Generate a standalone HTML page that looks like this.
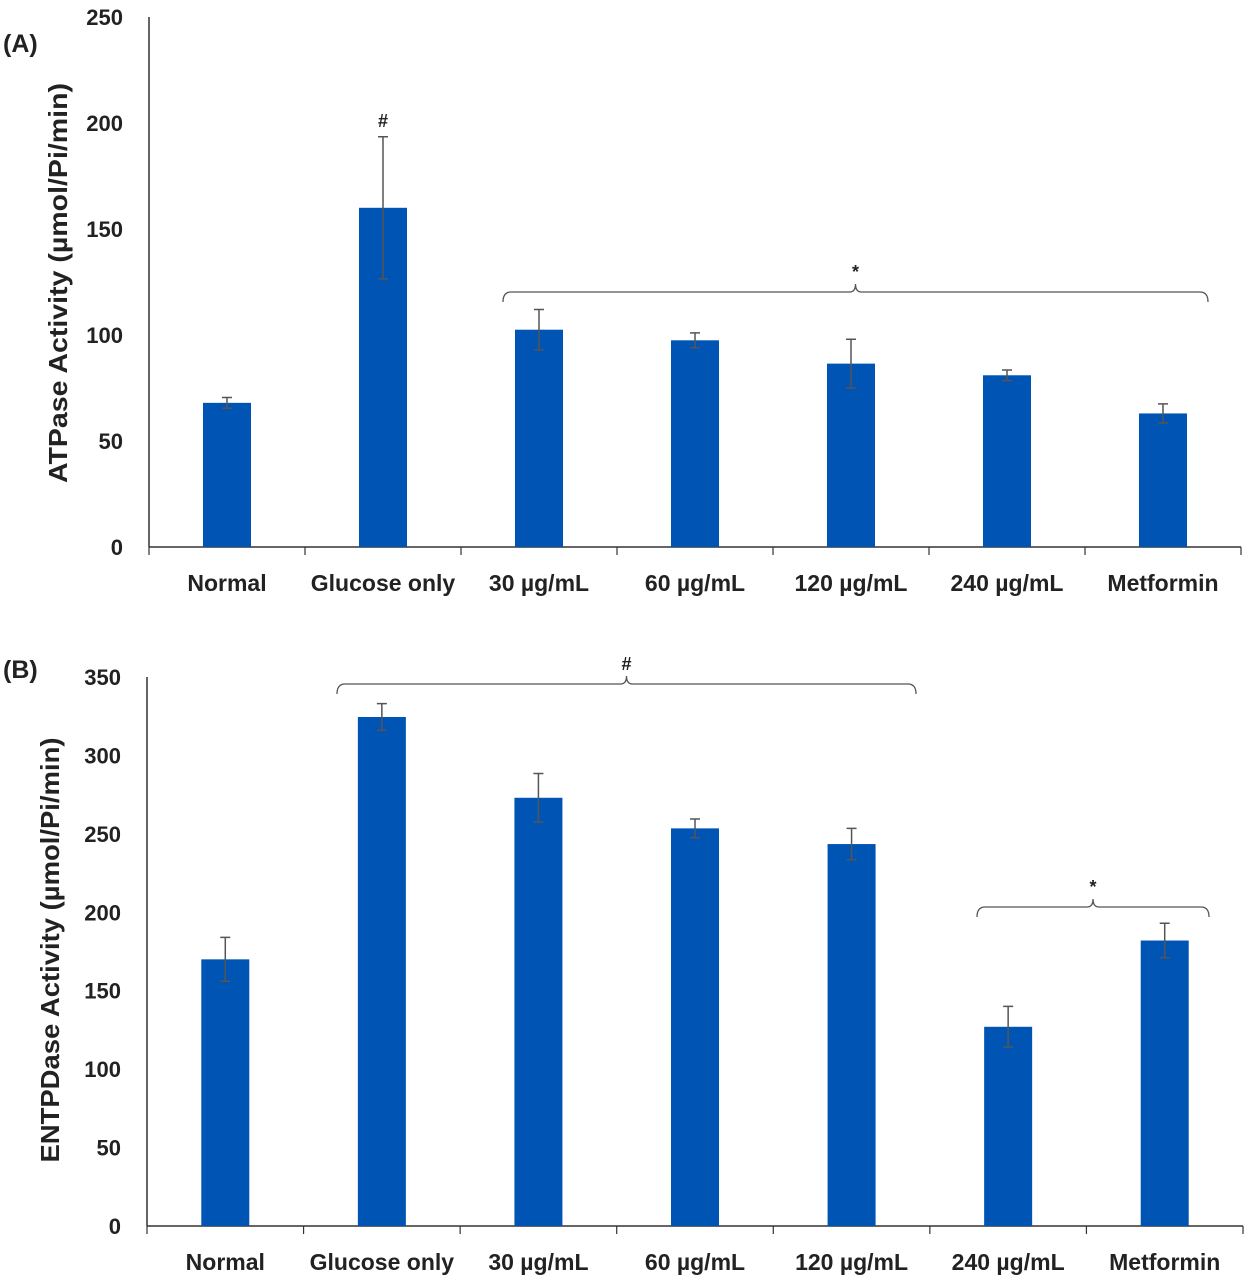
<!DOCTYPE html>
<html><head><meta charset="utf-8"><style>
body{margin:0;background:#fff}
svg text{font-family:"Liberation Sans",Arial,sans-serif;font-weight:bold;fill:#222}
</style></head><body>
<svg id="s" width="1254" height="1282" xmlns="http://www.w3.org/2000/svg"></svg>
<script>
const categories=["Normal","Glucose only","30 µg/mL","60 µg/mL","120 µg/mL","240 µg/mL","Metformin"];
const valuesA=[68,160,102.5,97.5,86.5,81,63];
const errA=[2.5,33.5,9.5,3.5,11.5,2.5,4.5];
const ticksA=[0,50,100,150,200,250];
const valuesB=[170,324.5,273,253.5,243.5,127,182];
const errB=[14,8.5,15.5,6,10,13,11];
const ticksB=[0,50,100,150,200,250,300,350];
const NS="http://www.w3.org/2000/svg";
const svg=document.getElementById('s');
function mk(tag,attrs,parent){const e=document.createElementNS(NS,tag);for(const k in attrs)e.setAttribute(k,attrs[k]);(parent||svg).appendChild(e);return e;}
function chart(cfg){
  const g=mk('g',{});
  
  
  const y=v=>cfg.y0-(v/cfg.max)*(cfg.y0-cfg.yTop);
  const bw=(cfg.x1-cfg.x0)/categories.length;
  const x=i=>cfg.x0+bw*(i+0.5);
  const ax=mk('line',{x1:cfg.x0,y1:cfg.yTop,x2:cfg.x0,y2:cfg.y0,stroke:'#333','stroke-width':1.5},g);
  
  const xa=mk('line',{x1:cfg.x0,y1:cfg.y0,x2:cfg.x1,y2:cfg.y0,stroke:'#333','stroke-width':1.5},g);
  
  cfg.ticks.forEach(t=>{
    const tl=mk('text',{x:cfg.x0-26,y:y(t)+8,'text-anchor':'end','font-size':22},g);
    tl.textContent=t;
    
  });
  for(let i=0;i<=categories.length;i++){
    const tk=mk('line',{x1:cfg.x0+bw*i,y1:cfg.y0,x2:cfg.x0+bw*i,y2:cfg.y0+8,stroke:'#333','stroke-width':1.2},g);
    
  }
  categories.forEach((c,i)=>{
    const v=cfg.vals[i],e=cfg.errs[i];
    const r=mk('rect',{x:x(i)-24,y:y(v),width:48,height:cfg.y0-y(v),fill:'#0054B4'},g);
    
    const el=mk('path',{d:`M${x(i)},${y(v+e)}V${y(v-e)}M${x(i)-5},${y(v+e)}h10M${x(i)-5},${y(v-e)}h10`,stroke:'#555','stroke-width':1.5,fill:'none'},g);
    
    const lb=mk('text',{x:x(i),y:cfg.y0+44,'text-anchor':'middle','font-size':23},g);
    lb.textContent=c;
    
  });
  const yt=mk('text',{x:0,y:0,'text-anchor':'middle','font-size':26,textLength:cfg.titleLen,lengthAdjust:'spacingAndGlyphs',transform:`translate(${cfg.titleX},${cfg.titleY}) rotate(-90)`},g);
  yt.textContent=cfg.title;
  
  const pl=mk('text',{x:3,y:cfg.panelY,'font-size':25},g);
  pl.textContent=cfg.panel;
  
  cfg.brackets.forEach(b=>{
    const m=(b.a+b.b)/2;
    const p=mk('path',{d:`M${b.a},${b.y+10}Q${b.a},${b.y} ${b.a+8},${b.y}H${m-6}Q${m},${b.y} ${m},${b.y-8}Q${m},${b.y} ${m+6},${b.y}H${b.b-8}Q${b.b},${b.y} ${b.b},${b.y+10}`,stroke:'#555','stroke-width':1.3,fill:'none'},g);
    
    const s=mk('text',{x:m,y:b.y-14,'text-anchor':'middle','font-size':18},g);
    s.textContent=b.s;
    
  });
  (cfg.marks||[]).forEach(mkx=>{
    const s=mk('text',{x:x(mkx.i),y:y(cfg.vals[mkx.i]+cfg.errs[mkx.i])-10,'text-anchor':'middle','font-size':18},g);
    s.textContent=mkx.s;
    
  });
}
chart({name:'chart-a-atpase',x0:149,x1:1241,y0:547,yTop:17,max:250,ticks:ticksA,vals:valuesA,errs:errA,
 title:'ATPase Activity (µmol/Pi/min)',titleX:67,titleY:283,titleLen:400,panel:'(A)',panelY:52,
 brackets:[{a:503,b:1208,y:292,s:'*'}],marks:[{i:1,s:'#'}]});
chart({name:'chart-b-entpdase',x0:147,x1:1243,y0:1226,yTop:677,max:350,ticks:ticksB,vals:valuesB,errs:errB,
 title:'ENTPDase Activity (µmol/Pi/min)',titleX:59,titleY:950,titleLen:425,panel:'(B)',panelY:678,
 brackets:[{a:337,b:916,y:684,s:'#'},{a:977,b:1209,y:907,s:'*'}]});
</script>
</body></html>
